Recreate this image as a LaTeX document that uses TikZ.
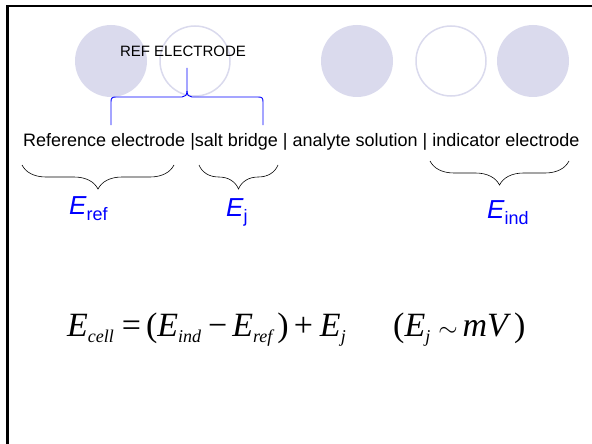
\documentclass[tikz,border=0pt]{standalone}
\usepackage{fontspec}
\setmainfont{Liberation Sans}
\newfontfamily\eqfont{Liberation Serif}
\usetikzlibrary{positioning, decorations.pathreplacing, calc}

\definecolor{lavender}{RGB}{218,218,237}
\newcommand{\fsz}[1]{\fontsize{#1}{#1}\selectfont}
\newcommand{\eqsub}[1]{\raisebox{-6pt}{\fsz{18}\itshape #1}}
\newcommand{\lblsub}[1]{\raisebox{-6pt}{\fsz{18}\upshape #1}}

\begin{document}
\begin{tikzpicture}[
    x=1pt, y=-1pt,
    bubble/.style={circle, fill=lavender, minimum size=72pt, inner sep=0pt},
    hollow/.style={circle, draw=lavender, line width=1.5pt, minimum size=70pt, inner sep=0pt},
    cellbrace/.style={decorate, decoration={brace, mirror, amplitude=24pt}, line width=0.6pt},
    elabel/.style={text=blue, anchor=base west, inner sep=0pt, font=\fsz{26}\itshape},
    eqn/.style={anchor=base west, inner sep=0pt, font=\eqfont\fsz{34}}
]
    \useasboundingbox (0,0) rectangle (592,444);
    % Frame
    \draw [line width=2.8pt] (7.5,444) -- (7.5,6) -- (592,6);

    % Circles
    \node [bubble] (c1) at (111,61) {};
    \node [hollow] (c2) at (195,61) {};
    \node [bubble] (c3) at (357,61) {};
    \node [hollow] (c4) at (451,61) {};
    \node [bubble] (c5) at (533,61) {};

    % Labels
    \node [font=\fsz{15}, inner sep=0pt] (reftag) at (183,51) {REF ELECTRODE};
    \node [anchor=base west, inner sep=0pt, font=\fsz{18}] (cellline) at (23,146)
        {Reference electrode |salt bridge | analyte solution | indicator electrode};

    % Blue brace
    \coordinate (stem) at (187,68);
    \draw [blue, line width=0.9pt] (111,125) -- (111,102) .. controls (111,98) and (112,97) .. (116,97)
        -- (182,97) .. controls (185,97) and (187,95) .. (187,91) -- (stem);
    \draw [blue, line width=0.9pt] (263,125) -- (263,102) .. controls (263,98) and (262,97) .. (258,97)
        -- (192,97) .. controls (189,97) and (187,95) .. (187,91);

    % Braces under the cell
    \draw [cellbrace] (22,165) -- (174,165);
    \draw [cellbrace] (199,165) -- (278,165);
    \draw [cellbrace] (430,161) -- (569,161);

    \node [elabel] (eref) at (69,214) {E\lblsub{ref}};
    \node [elabel] (ej) at (226,216) {E\lblsub{j}};
    \node [elabel] (eind) at (487,218) {E\lblsub{ind}};

    % Equation
    \node [eqn] (ecell) at (67,336) {\textit{E}\eqsub{cell}\hspace{8pt}=\hspace{5pt}(\textit{E}\eqsub{ind}\hspace{7pt}−\hspace{5pt}\textit{E}\eqsub{ref}\hspace{5pt})\hspace{5pt}+\hspace{7pt}\textit{E}\eqsub{j}};
    \node [eqn] (ejmv) at (393,336) {(\textit{E}\eqsub{j}\hspace{8pt}$\sim$\hspace{5pt}\textit{mV}\hspace{3pt})};
\end{tikzpicture}
\end{document}
